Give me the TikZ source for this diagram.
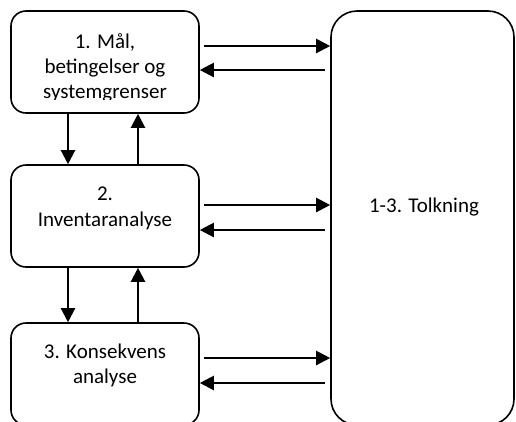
\documentclass[tikz,border=0pt]{standalone}
\usepackage{fontspec}
\setmainfont{Carlito}
\usetikzlibrary{arrows.meta}
\begin{document}
\begin{tikzpicture}[x=1pt,y=-1pt,
  box/.style={draw, line width=1.6pt, rounded corners=15pt, inner sep=0pt},
  bigbox/.style={draw, line width=1.6pt, rounded corners=26pt, inner sep=0pt},
  arr/.style={line width=2.2pt, -{Triangle[length=14pt,width=14pt]}},
  lbl/.style={anchor=base, inner sep=0pt, font=\fontsize{21}{25}\selectfont}]
\useasboundingbox (0,0) rectangle (516,421);
\clip (0,0) rectangle (516,421);
\node[box, minimum width=188pt, minimum height=102pt] (b1) at (105,62) {};
\node[box, minimum width=188pt, minimum height=102pt] (b2) at (105,216) {};
\node[box, minimum width=188pt, minimum height=102pt] (b3) at (105,374) {};
\node[bigbox, minimum width=183pt, minimum height=414pt] (big) at (422.5,218) {};
% texts
\begin{scope}
\clip (11,11) rectangle (199,99.5);
\node[lbl] (t1a) at (105,48) {1. Mål,};
\node[lbl] (t1b) at (105,73) {betingelser og};
\node[lbl] (t1c) at (105,98) {systemgrenser};
\end{scope}
\node[lbl] (t2a) at (105,200) {2.};
\node[lbl] (t2b) at (105,226) {Inventaranalyse};
\node[lbl] (t3a) at (105,358) {3. Konsekvens};
\node[lbl] (t3b) at (105,383) {analyse};
\node[lbl] (t4) at (424,212) {1-3. Tolkning};
% horizontal arrows
\draw[arr] ([xshift=4pt,yshift=16pt]b1.east) -- ([yshift=172pt]big.west);
\draw[arr] ([xshift=-5pt,yshift=148pt]big.west) -- ([yshift=-8pt]b1.east);
\draw[arr] ([xshift=4pt,yshift=11pt]b2.east) -- ([yshift=13pt]big.west);
\draw[arr] ([xshift=-5pt,yshift=-12pt]big.west) -- ([yshift=-14pt]b2.east);
\draw[arr] ([xshift=4pt,yshift=16pt]b3.east) -- ([yshift=-140pt]big.west);
\draw[arr] ([xshift=-5pt,yshift=-165pt]big.west) -- ([yshift=-9pt]b3.east);
% vertical arrows
\draw[arr] ([xshift=-37pt]b1.south) -- ([xshift=-37pt]b2.north);
\draw[arr] ([xshift=33pt]b2.north) -- ([xshift=33pt]b1.south);
\draw[arr] ([xshift=-37pt]b2.south) -- ([xshift=-37pt]b3.north);
\draw[arr] ([xshift=33pt]b3.north) -- ([xshift=33pt]b2.south);
\end{tikzpicture}
\end{document}
